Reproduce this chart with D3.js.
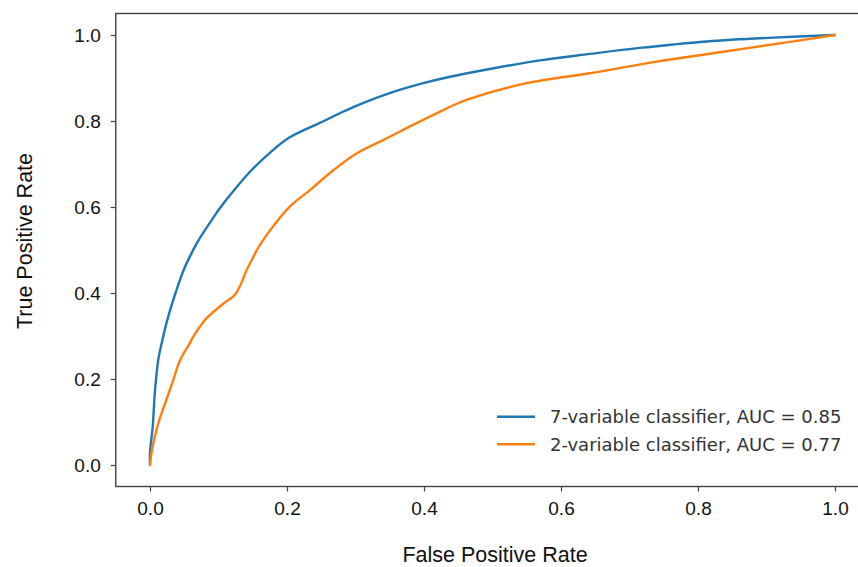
<!DOCTYPE html>
<html>
<head>
<meta charset="utf-8">
<script src="https://cdn.jsdelivr.net/npm/d3@7"></script>
<style>
  html, body { margin: 0; padding: 0; background: #fff; }
  svg { display: block; }
</style>
</head>
<body>
<svg id="chart" width="858" height="567"></svg>
<script>
// ---- Data ----
const xTicks = [0.0, 0.2, 0.4, 0.6, 0.8, 1.0];
const yTicks = [0.0, 0.2, 0.4, 0.6, 0.8, 1.0];
const seriesNames = ["7-variable classifier, AUC = 0.85", "2-variable classifier, AUC = 0.77"];
const seriesColors = ["#1f77b4", "#ff7f0e"];

const fpr7 = [0, 0, 0.004, 0.007, 0.012, 0.018, 0.024, 0.034, 0.049, 0.058, 0.068, 0.088, 0.109, 0.117, 0.146, 0.175, 0.204, 0.25, 0.277, 0.302, 0.35, 0.399, 0.438, 0.496, 0.569, 0.642, 0.715, 0.813, 0.91, 1];
const tpr7 = [0, 0.03, 0.09, 0.167, 0.244, 0.29, 0.33, 0.384, 0.453, 0.484, 0.515, 0.565, 0.612, 0.628, 0.682, 0.726, 0.762, 0.797, 0.818, 0.836, 0.865, 0.888, 0.903, 0.921, 0.941, 0.956, 0.970, 0.985, 0.994, 1];

const fpr2 = [0, 0.002, 0.007, 0.015, 0.022, 0.034, 0.044, 0.058, 0.063, 0.073, 0.083, 0.107, 0.124, 0.131, 0.141, 0.151, 0.156, 0.175, 0.204, 0.234, 0.268, 0.302, 0.341, 0.389, 0.438, 0.462, 0.55, 0.642, 0.74, 0.837, 0.934, 1];
const tpr2 = [0, 0.027, 0.066, 0.112, 0.143, 0.198, 0.244, 0.283, 0.298, 0.322, 0.342, 0.375, 0.396, 0.415, 0.453, 0.484, 0.5, 0.545, 0.601, 0.640, 0.686, 0.725, 0.756, 0.795, 0.833, 0.849, 0.888, 0.911, 0.938, 0.961, 0.984, 1];

const series = [
  { name: seriesNames[0], color: seriesColors[0], pts: fpr7.map((x, i) => [x, tpr7[i]]) },
  { name: seriesNames[1], color: seriesColors[1], pts: fpr2.map((x, i) => [x, tpr2[i]]) }
];

// ---- Layout ----
const svg = d3.select("#chart");
const x = d3.scaleLinear().domain([-0.05, 1.05]).range([115.75, 869.25]);
const y = d3.scaleLinear().domain([-0.05, 1.05]).range([486.5, 13.5]);

const tickFont = "'Liberation Sans', Arial, Helvetica, sans-serif";

// curves
const line = d3.line().x(d => x(d[0])).y(d => y(d[1])).curve(d3.curveCatmullRom.alpha(0.5));
series.forEach(s => {
  svg.append("path")
    .attr("d", line(s.pts))
    .attr("fill", "none")
    .attr("stroke", s.color)
    .attr("stroke-width", 2.4)
    .attr("stroke-linejoin", "round")
    .attr("stroke-linecap", "round");
});

// frame
svg.append("rect")
  .attr("x", x(-0.05)).attr("y", y(1.05))
  .attr("width", x(1.05) - x(-0.05)).attr("height", y(-0.05) - y(1.05))
  .attr("fill", "none").attr("stroke", "#444").attr("stroke-width", 1.4);

// axes
const xAxis = svg.append("g")
  .attr("transform", `translate(0,${y(-0.05)})`)
  .call(d3.axisBottom(x).tickValues(xTicks).tickFormat(d3.format(".1f")).tickSize(5).tickPadding(10).tickSizeOuter(0));
const yAxis = svg.append("g")
  .attr("transform", `translate(${x(-0.05)},0)`)
  .call(d3.axisLeft(y).tickValues(yTicks).tickFormat(d3.format(".1f")).tickSize(5).tickPadding(10).tickSizeOuter(0));

[xAxis, yAxis].forEach(g => {
  g.select(".domain").remove();
  g.selectAll(".tick line").attr("stroke", "#444").attr("stroke-width", 1.2);
  g.selectAll(".tick text")
    .attr("fill", "#111")
    .style("font-family", tickFont)
    .style("font-size", "19px");
});

// axis labels
svg.append("text")
  .attr("x", 495).attr("y", 562)
  .attr("text-anchor", "middle")
  .style("font-family", tickFont).style("font-size", "21.5px").attr("fill", "#111")
  .text("False Positive Rate");
svg.append("text")
  .attr("transform", "translate(31.5,241) rotate(-90)")
  .attr("text-anchor", "middle")
  .style("font-family", tickFont).style("font-size", "21.5px").attr("fill", "#111")
  .text("True Positive Rate");

// legend
const legY = [416.7, 444.3];
series.forEach((s, i) => {
  svg.append("line")
    .attr("x1", 497).attr("x2", 535)
    .attr("y1", legY[i]).attr("y2", legY[i])
    .attr("stroke", s.color).attr("stroke-width", 2.4);
  svg.append("text")
    .attr("x", 550).attr("y", legY[i])
    .attr("dy", "0.36em")
    .style("font-family", "'DejaVu Sans', sans-serif").style("font-size", "18px")
    .attr("fill", "#333")
    .text(s.name);
});
</script>
</body>
</html>
